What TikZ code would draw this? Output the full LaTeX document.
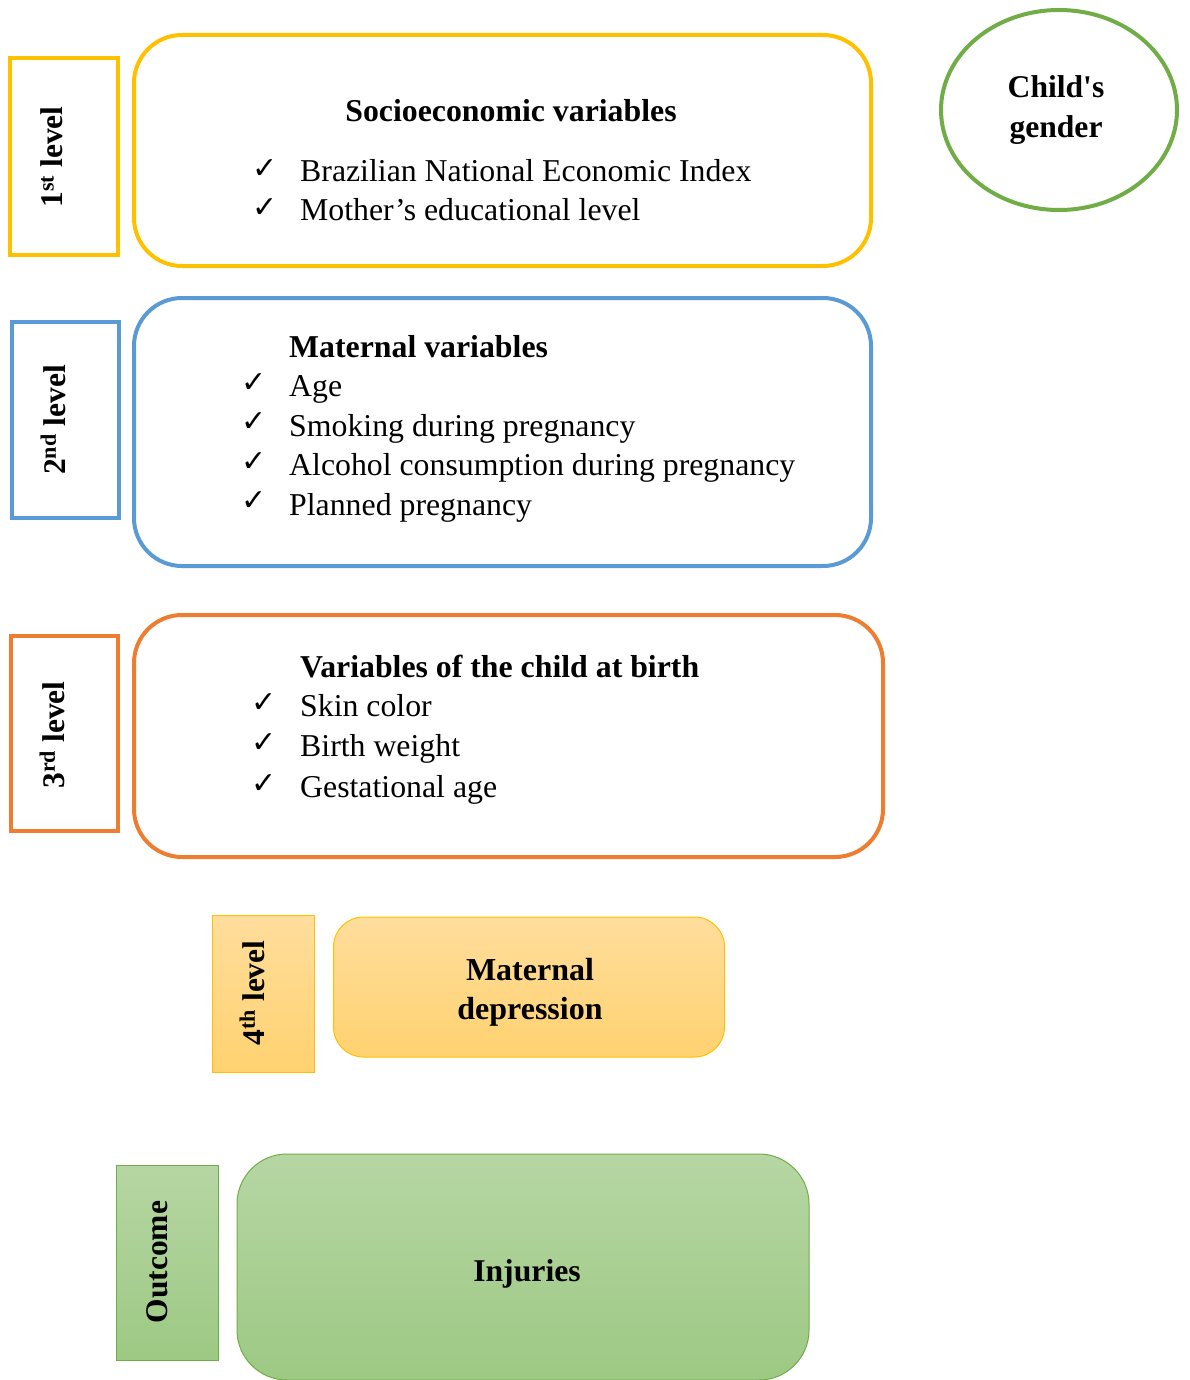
\documentclass[tikz,border=0pt]{standalone}
\usepackage{fontspec}
\setmainfont{Liberation Serif}
\newfontfamily\chkfont{DejaVu Sans}
\usetikzlibrary{shapes.geometric}
\definecolor{cyel}{HTML}{FFC000}
\definecolor{cblue}{HTML}{5B9BD5}
\definecolor{corg}{HTML}{ED7D31}
\definecolor{cgrn}{HTML}{70AD47}
\definecolor{yeltop}{HTML}{FFDD9C}
\definecolor{yelbot}{HTML}{FFD270}
\definecolor{grntop}{HTML}{B6D6A3}
\definecolor{grnbot}{HTML}{9DC984}
\tikzset{
  x=1pt,y=-1pt,
  body/.style={font=\fontsize{31.8}{38}\selectfont, inner sep=0pt},
  btitle/.style={font=\fontsize{31.8}{38}\selectfont\bfseries, inner sep=0pt},
  chk/.style={font=\chkfont\fontsize{30}{34}\selectfont, inner sep=0pt},
  lvl/.style={font=\fontsize{31.5}{36}\selectfont\bfseries, inner sep=0pt, rotate=90},
  lvlbox/.style={line width=4pt, fill=white},
  varbox/.style={line width=4pt, rounded corners=48pt},
}
\begin{document}
\begin{tikzpicture}
\useasboundingbox (0,0) rectangle (1189,1380);
% level boxes
\draw[lvlbox, draw=cyel] (10,58) rectangle (118,255);
\node[lvl] (l1) at (52,157) {1\textsuperscript{st} level};
\draw[lvlbox, draw=cblue] (12,322) rectangle (119,518);
\node[lvl] (l2) at (53,420) {2\textsuperscript{nd} level};
\draw[lvlbox, draw=corg] (11,636) rectangle (118,831);
\node[lvl] (l3) at (52,735) {3\textsuperscript{rd} level};
% variable boxes
\draw[varbox, draw=cyel] (134,35) rectangle (871,266);
\draw[varbox, draw=cblue] (134,298) rectangle (871,566);
\draw[varbox, draw=corg] (134,615) rectangle (883,857);
% box 1 text
\node[btitle] (t1) at (511,111) {Socioeconomic variables};
\node[chk] (c11) at (265,169) {✓};
\node[body, anchor=base west] (s11) at (300,182) {Brazilian National Economic Index};
\node[chk] (c12) at (265,208) {✓};
\node[body, anchor=base west] (s12) at (300,221) {Mother’s educational level};
% box 2 text
\node[btitle, anchor=base west] (t2) at (289,357) {Maternal variables};
\node[chk] (c21) at (254,383) {✓};
\node[body, anchor=base west] (s21) at (289,396) {Age};
\node[chk] (c22) at (254,422) {✓};
\node[body, anchor=base west] (s22) at (289,436) {Smoking during pregnancy};
\node[chk] (c23) at (254,462) {✓};
\node[body, anchor=base west] (s23) at (289,475) {Alcohol consumption during pregnancy};
\node[chk] (c24) at (254,501) {✓};
\node[body, anchor=base west] (s24) at (289,515) {Planned pregnancy};
% box 3 text
\node[btitle, anchor=base west] (t3) at (300,677) {Variables of the child at birth};
\node[chk] (c31) at (264,703) {✓};
\node[body, anchor=base west] (s31) at (300,716) {Skin color};
\node[chk] (c32) at (264,743) {✓};
\node[body, anchor=base west] (s32) at (300,756) {Birth weight};
\node[chk] (c33) at (264,784) {✓};
\node[body, anchor=base west] (s33) at (300,797) {Gestational age};
% child's gender
\node[ellipse, draw=cgrn, line width=4pt, minimum width=236pt, minimum height=200pt, inner sep=0pt] (cg) at (1059,110) {};
\node[font=\fontsize{31.6}{40}\selectfont\bfseries, align=center, inner sep=0pt] (cgt) at (1056,110) {Child\textquotesingle s\\gender};
% 4th level
\node[draw=cyel, line width=1pt, top color=yeltop, bottom color=yelbot, minimum width=102pt, minimum height=157pt, inner sep=0pt] (l4box) at (263,993.5) {};
\node[lvl] (l4) at (252,993) {4\textsuperscript{th} level};
\node[draw=cyel, line width=1pt, top color=yeltop, bottom color=yelbot, rounded corners=30pt,
      minimum width=391pt, minimum height=140pt, inner sep=0pt] (md) at (529,987) {};
\node[font=\fontsize{32}{39}\selectfont\bfseries, align=center, inner sep=0pt] (mdt) at (530,992) {Maternal\\depression};
% outcome
\node[draw=cgrn, line width=1pt, top color=grntop, bottom color=grnbot, minimum width=102pt, minimum height=195pt, inner sep=0pt] (obox) at (167,1262.5) {};
\node[lvl] (oc) at (157,1262) {Outcome};
\node[draw=cgrn, line width=1pt, top color=grntop, bottom color=grnbot, rounded corners=50pt,
      minimum width=572pt, minimum height=226pt, inner sep=0pt] (inj) at (523,1267) {};
\node[font=\fontsize{31.7}{38}\selectfont\bfseries, anchor=base, inner sep=0pt] (injt) at (527,1281) {Injuries};
\end{tikzpicture}
\end{document}
